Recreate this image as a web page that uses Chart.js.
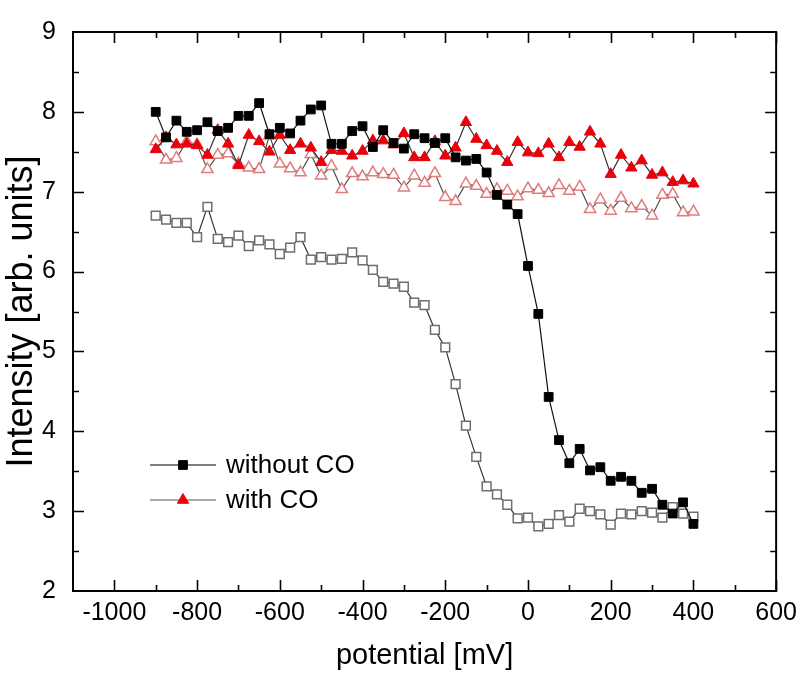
<!DOCTYPE html>
<html>
<head>
<meta charset="utf-8">
<script src="https://cdn.jsdelivr.net/npm/chart.js@4.4.1/dist/chart.umd.min.js"></script>
<style>
  body { margin: 0; background: #fff; }
  #wrap { width: 804px; height: 677px; }
</style>
</head>
<body>
<div id="wrap"><canvas id="myChart" width="804" height="677"></canvas></div>
<script>
// potential [mV]
var potential = [-900, -875, -850, -825, -800, -775, -750, -725, -700, -675, -650, -625, -600, -575, -550, -525, -500,
  -475, -450, -425, -400, -375, -350, -325, -300, -275, -250, -225, -200, -175, -150, -125, -100,
  -75, -50, -25, 0, 25, 50, 75, 100, 125, 150, 175, 200, 225, 250, 275, 300, 325, 350, 375, 400]

// without CO, filled squares
var withoutCO = [8.00, 7.68, 7.89, 7.75, 7.77, 7.87, 7.76, 7.80, 7.95, 7.95, 8.11, 7.72, 7.80, 7.73, 7.89, 8.03, 8.08,
  7.60, 7.60, 7.76, 7.82, 7.56, 7.77, 7.61, 7.54, 7.72, 7.67, 7.61, 7.67, 7.43, 7.39, 7.41, 7.24,
  6.96, 6.84, 6.72, 6.07, 5.47, 4.43, 3.89, 3.60, 3.78, 3.51, 3.55, 3.38, 3.43, 3.38, 3.23, 3.28, 3.08, 2.97, 3.11, 2.84]

// without CO, open squares
var withoutCO2 = [6.70, 6.65, 6.61, 6.61, 6.43, 6.81, 6.41, 6.37, 6.45, 6.32, 6.39, 6.34, 6.22, 6.30, 6.43, 6.15, 6.18,
  6.15, 6.16, 6.24, 6.14, 6.02, 5.87, 5.85, 5.81, 5.61, 5.58, 5.27, 5.05, 4.59, 4.07, 3.68, 3.31,
  3.21, 3.08, 2.91, 2.92, 2.81, 2.84, 2.95, 2.87, 3.03, 3.00, 2.96, 2.83, 2.97, 2.96, 3.00, 2.98, 2.92, 3.05, 2.97, 2.93]

// with CO, filled triangles
var withCO = [7.53, 7.68, 7.59, 7.60, 7.58, 7.46, 7.77, 7.60, 7.33, 7.71, 7.63, 7.50, 7.71, 7.52, 7.60, 7.55, 7.37,
  7.52, 7.51, 7.45, 7.51, 7.64, 7.64, 7.59, 7.73, 7.43, 7.43, 7.63, 7.45, 7.55, 7.87, 7.66, 7.58,
  7.51, 7.37, 7.62, 7.49, 7.48, 7.60, 7.43, 7.62, 7.56, 7.75, 7.60, 7.22, 7.46, 7.30, 7.39, 7.21, 7.24, 7.12, 7.14, 7.10]

// with CO, open triangles
var withCO2 = [7.63, 7.40, 7.42, 7.63, 7.59, 7.28, 7.46, 7.48, 7.35, 7.30, 7.28, 7.70, 7.35, 7.29, 7.24, 7.47, 7.20,
  7.32, 7.03, 7.23, 7.19, 7.24, 7.22, 7.21, 7.05, 7.20, 7.11, 7.23, 6.93, 6.88, 7.10, 7.07, 6.97,
  7.03, 7.01, 6.94, 7.04, 7.02, 6.98, 7.08, 7.01, 7.06, 6.78, 6.90, 6.76, 6.92, 6.79, 6.82, 6.70, 6.96, 6.97, 6.74, 6.75]

var xTicks = [-1000, -800, -600, -400, -200, 0, 200, 400, 600]
var yTicks = [2, 3, 4, 5, 6, 7, 8, 9]

var FONT = 'Liberation Sans, Arial, sans-serif'

function pts(ys) {
  var res = []
  for (var i = 0; i < potential.length; i++) {
    res.push({ x: potential[i], y: ys[i] })
  }
  return res
}

// box round the plot with inward ticks (major + minor), and the legend
const frame = {
  id: 'frame',
  afterDraw(chart) {
    var c = chart.ctx
    var a = chart.chartArea
    var xs = chart.scales.x
    var ys = chart.scales.y
    c.save()
    c.strokeStyle = '#000'
    c.lineWidth = 2
    c.strokeRect(a.left, a.top, a.right - a.left, a.bottom - a.top)
    c.lineWidth = 1.6
    c.beginPath()
    for (var v = -1000; v <= 600; v += 100) {
      var px = Math.round(xs.getPixelForValue(v)) + 0.5
      var len = (v % 200 === 0) ? 11 : 6
      c.moveTo(px, a.bottom); c.lineTo(px, a.bottom - len)
      c.moveTo(px, a.top); c.lineTo(px, a.top + len)
    }
    for (var w = 2.5; w < 9; w += 0.5) {
      var py = Math.round(ys.getPixelForValue(w)) + 0.5
      var l2 = (w % 1 === 0) ? 11 : 6
      c.moveTo(a.left, py); c.lineTo(a.left + l2, py)
      c.moveTo(a.right, py); c.lineTo(a.right - l2, py)
    }
    c.stroke()

    // legend
    var items = [
      { text: 'without CO', ds: 0, y: 465 },
      { text: 'with CO', ds: 2, y: 500 }
    ]
    c.font = '26px ' + FONT
    c.textBaseline = 'middle'
    items.forEach(function (it) {
      var d = chart.data.datasets[it.ds]
      c.strokeStyle = it.ds === 0 ? '#000' : '#555'
      c.lineWidth = 1.2
      c.beginPath(); c.moveTo(150, it.y); c.lineTo(216, it.y); c.stroke()
      c.fillStyle = d.pointBackgroundColor
      c.strokeStyle = d.pointBorderColor
      c.lineWidth = d.pointBorderWidth
      Chart.helpers.drawPoint(c, {
        pointStyle: d.pointStyle, radius: d.pointRadius, borderWidth: d.pointBorderWidth
      }, 183, it.y)
      c.fillStyle = '#000'
      c.fillText(it.text, 226, it.y + 1)
    })
    c.restore()
  }
}

const ctx = document.getElementById('myChart')
var a = new Chart(ctx, {
  type: 'line',
  data: {
    datasets: [
      {
        label: 'without CO',
        data: pts(withoutCO),
        borderColor: '#111',
        borderWidth: 1.2,
        pointStyle: 'rect',
        pointRadius: 6.2,
        pointBackgroundColor: '#000',
        pointBorderColor: '#000',
        pointBorderWidth: 1
      },
      {
        label: 'without CO (2)',
        data: pts(withoutCO2),
        borderColor: '#333',
        borderWidth: 1.2,
        pointStyle: 'rect',
        pointRadius: 6.2,
        pointBackgroundColor: '#fff',
        pointBorderColor: '#6e6e6e',
        pointBorderWidth: 1.5
      },
      {
        label: 'with CO',
        data: pts(withCO),
        borderColor: '#333',
        borderWidth: 1.2,
        pointStyle: 'triangle',
        pointRadius: 6.5,
        pointBackgroundColor: '#e8000b',
        pointBorderColor: '#e8000b',
        pointBorderWidth: 1
      },
      {
        label: 'with CO (2)',
        data: pts(withCO2),
        borderColor: '#444',
        borderWidth: 1.1,
        pointStyle: 'triangle',
        pointRadius: 6.5,
        pointBackgroundColor: '#fff',
        pointBorderColor: '#e07c7c',
        pointBorderWidth: 1.5
      }
    ]
  },
  options: {
    responsive: false,
    animation: false,
    layout: { padding: { top: 20, right: 24, left: 0, bottom: 0 } },
    plugins: { legend: { display: false }, tooltip: { enabled: false } },
    elements: { line: { tension: 0 } },
    scales: {
      x: {
        type: 'linear',
        min: -1100,
        max: 600,
        afterBuildTicks: function (s) { s.ticks = xTicks.map(function (v) { return { value: v } }) },
        afterFit: function (s) { s.height = 86 },
        grid: { display: false, drawTicks: false },
        border: { display: false },
        ticks: {
          color: '#000', padding: 7, maxRotation: 0, font: { family: FONT, size: 25 },
          callback: function (v) { return String(v) }
        },
        title: {
          display: true, text: 'potential [mV]', color: '#000',
          font: { family: FONT, size: 29 }, padding: { top: 0, bottom: 4 }
        }
      },
      y: {
        min: 2,
        max: 9,
        afterBuildTicks: function (s) { s.ticks = yTicks.map(function (v) { return { value: v } }) },
        afterFit: function (s) { s.width = 73 },
        grid: { display: false, drawTicks: false },
        border: { display: false },
        ticks: {
          color: '#000', padding: 17, font: { family: FONT, size: 25 },
          callback: function (v) { return String(v) }
        },
        title: {
          display: true, text: 'Intensity [arb. units]', color: '#000',
          font: { family: FONT, size: 36 }, padding: { top: 0, bottom: 0 }
        }
      }
    }
  },
  plugins: [frame]
})
</script>
</body>
</html>
